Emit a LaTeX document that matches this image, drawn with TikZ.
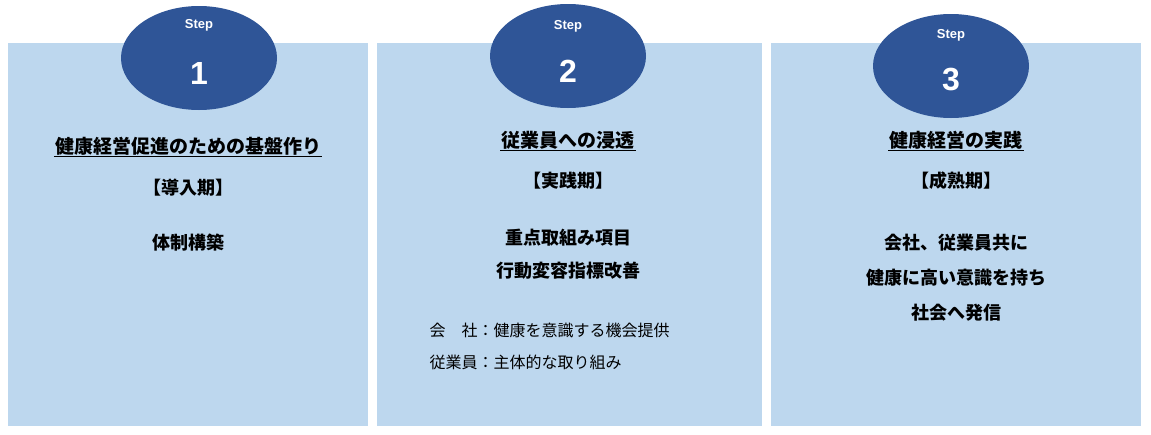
\documentclass[tikz,border=0pt]{standalone}
\usepackage{fontspec}
\usetikzlibrary{shapes.geometric}
\setmainfont{Liberation Sans}
\newfontfamily\jp{Noto Sans CJK JP}
\definecolor{panel}{HTML}{BDD7EE}
\definecolor{dblue}{HTML}{2F5597}
\begin{document}
\begin{tikzpicture}[x=1pt,y=-1pt,
  panelbox/.style={fill=panel,draw=none},
  badge/.style={ellipse,fill=dblue,draw=none,minimum width=156pt,minimum height=104pt},
  steplbl/.style={text=white,font=\bfseries\fontsize{13}{15}\selectfont},
  numlbl/.style={text=white,font=\bfseries\fontsize{32}{36}\selectfont},
  ttl/.style={font=\jp\bfseries\fontsize{19}{22}\selectfont,inner sep=1pt},
  body/.style={font=\jp\bfseries\fontsize{18}{21}\selectfont},
  small/.style={font=\jp\fontsize{16}{19}\selectfont,anchor=west}]
\useasboundingbox (0,0) rectangle (1151,434);
\fill[panelbox] (8,43) rectangle (368,426);
\fill[panelbox] (377,43) rectangle (762,426);
\fill[panelbox] (771,43) rectangle (1141,426);
\node[badge] (e1) at (199,58) {};
\node[badge] (e2) at (568,56) {};
\node[badge] (e3) at (951,66) {};
\node[steplbl] (s1) at (199,25) {Step};
\node[numlbl] (n1) at (199,73) {1};
\node[steplbl] (s2) at (568,26) {Step};
\node[numlbl] (n2) at (568,71) {2};
\node[steplbl] (s3) at (951,35) {Step};
\node[numlbl] (n3) at (951,80) {3};
\node[ttl] (t1) at (188,146) {健康経営促進のための基盤作り};
\draw[line width=1pt] (t1.south west) -- (t1.south east);
\node[ttl] (t2) at (568,140) {従業員への浸透};
\draw[line width=1pt] (t2.south west) -- (t2.south east);
\node[ttl] (t3) at (956,140) {健康経営の実践};
\draw[line width=1pt] (t3.south west) -- (t3.south east);
\node[body] (p1) at (188,188) {【導入期】};
\node[body] (p2) at (568,181) {【実践期】};
\node[body] (p3) at (956,181) {【成熟期】};
\node[body] (b1) at (188,243) {体制構築};
\node[body] (b2a) at (568,238) {重点取組み項目};
\node[body] (b2b) at (568,271) {行動変容指標改善};
\node[small] (c1) at (426,330) {会\hspace{1em}社：健康を意識する機会提供};
\node[small] (c2) at (426,362) {従業員：主体的な取り組み};
\node[body] (b3a) at (956,243) {会社、従業員共に};
\node[body] (b3b) at (956,278) {健康に高い意識を持ち};
\node[body] (b3c) at (956,313) {社会へ発信};
\end{tikzpicture}
\end{document}
